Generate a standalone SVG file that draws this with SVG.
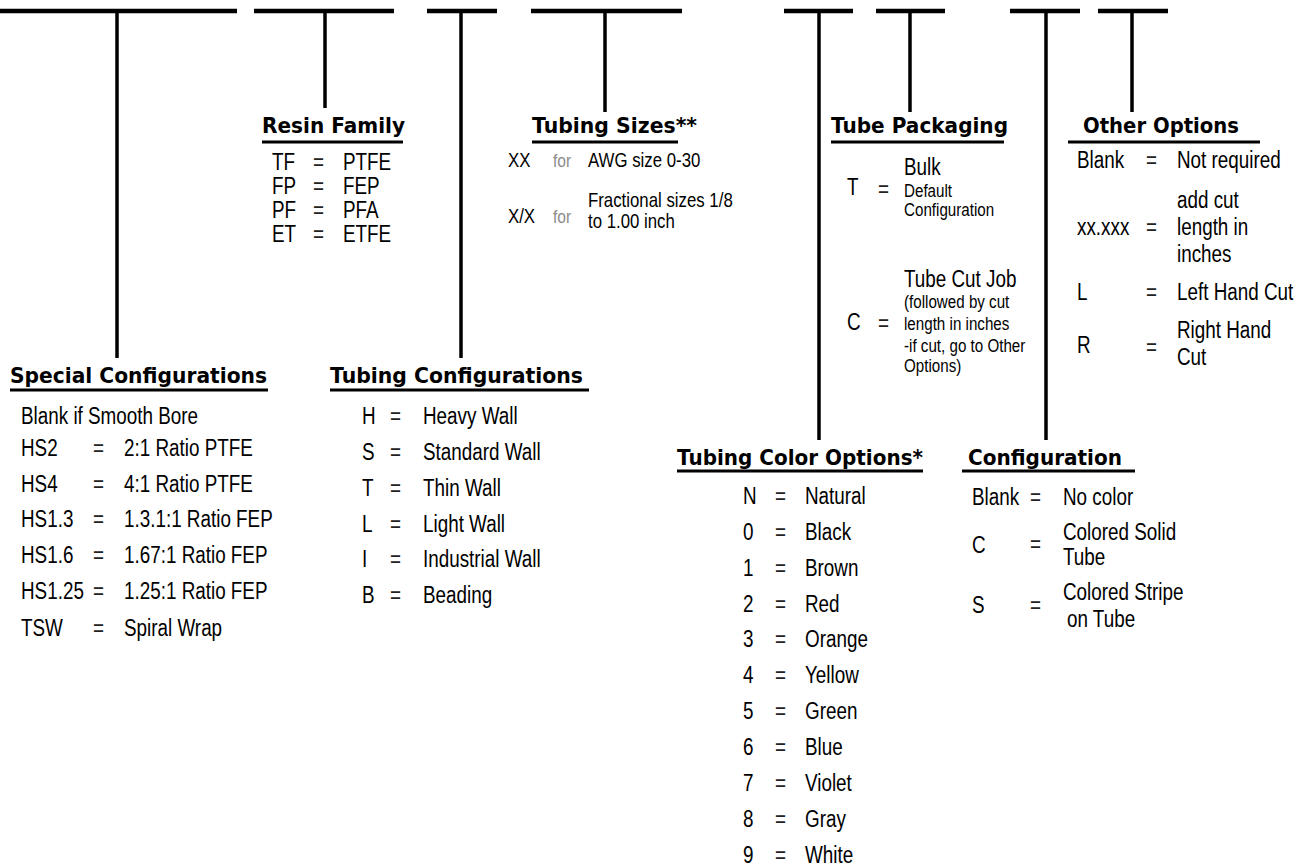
<svg xmlns="http://www.w3.org/2000/svg" width="1308" height="867" viewBox="0 0 1308 867">
<style>
.bar{stroke:#000;stroke-width:4.5;fill:none}
.stem{stroke:#000;stroke-width:3.5;fill:none}
.ul{stroke:#000;stroke-width:3;fill:none}
.t{font-family:"DejaVu Sans",sans-serif;font-weight:bold;font-size:21.5px;fill:#000}
.b{font-family:"Liberation Sans",Arial,sans-serif;font-size:23px;fill:#000}
.m{font-family:"Liberation Sans",Arial,sans-serif;font-size:20.5px;fill:#000}
.s{font-family:"Liberation Sans",Arial,sans-serif;font-size:18.5px;fill:#000}
.f{font-family:"Liberation Sans",Arial,sans-serif;font-size:19px;fill:#8a8a8a}
.e{font-family:"Liberation Sans",Arial,sans-serif;font-size:23px;fill:#222}
</style>
<rect width="1308" height="867" fill="#fff"/>
<g id="connectors">
<line class="bar" x1="0" y1="11" x2="237" y2="11"/>
<line class="bar" x1="254" y1="11" x2="394" y2="11"/>
<line class="bar" x1="427" y1="11" x2="497" y2="11"/>
<line class="bar" x1="531" y1="11" x2="682" y2="11"/>
<line class="bar" x1="784" y1="11" x2="853" y2="11"/>
<line class="bar" x1="876" y1="11" x2="945" y2="11"/>
<line class="bar" x1="1010" y1="11" x2="1080" y2="11"/>
<line class="bar" x1="1098" y1="11" x2="1168" y2="11"/>
<line class="stem" x1="117" y1="11" x2="117" y2="358"/>
<line class="stem" x1="325" y1="11" x2="325" y2="108"/>
<line class="stem" x1="461" y1="11" x2="461" y2="358"/>
<line class="stem" x1="605" y1="11" x2="605" y2="112"/>
<line class="stem" x1="819" y1="11" x2="819" y2="440"/>
<line class="stem" x1="910" y1="11" x2="910" y2="112"/>
<line class="stem" x1="1046" y1="11" x2="1046" y2="440"/>
<line class="stem" x1="1132" y1="11" x2="1132" y2="112"/>
</g>
<g id="resin-family">
<text class="t" x="262" y="133" textLength="143" lengthAdjust="spacingAndGlyphs">Resin Family</text>
<line class="ul" x1="262" y1="142" x2="403" y2="142"/>
<text class="b" transform="translate(272 170) scale(.82 1)">TF</text><text class="e" transform="translate(313 170) scale(.82 1)">=</text><text class="b" transform="translate(343 170) scale(.82 1)">PTFE</text>
<text class="b" transform="translate(272 194) scale(.82 1)">FP</text><text class="e" transform="translate(313 194) scale(.82 1)">=</text><text class="b" transform="translate(343 194) scale(.82 1)">FEP</text>
<text class="b" transform="translate(272 218) scale(.82 1)">PF</text><text class="e" transform="translate(313 218) scale(.82 1)">=</text><text class="b" transform="translate(343 218) scale(.82 1)">PFA</text>
<text class="b" transform="translate(272 242) scale(.82 1)">ET</text><text class="e" transform="translate(313 242) scale(.82 1)">=</text><text class="b" transform="translate(343 242) scale(.82 1)">ETFE</text>
</g>
<g id="tubing-sizes">
<text class="t" x="532" y="133" textLength="165" lengthAdjust="spacingAndGlyphs">Tubing Sizes**</text>
<line class="ul" x1="532" y1="142" x2="678" y2="142"/>
<text class="m" transform="translate(508 167) scale(.82 1)">XX</text><text class="f" transform="translate(553 167) scale(.82 1)">for</text><text class="m" transform="translate(588 167) scale(.82 1)">AWG size 0-30</text>
<text class="m" transform="translate(508 223) scale(.82 1)">X/X</text><text class="f" transform="translate(553 223) scale(.82 1)">for</text>
<text class="m" transform="translate(588 207) scale(.82 1)">Fractional sizes 1/8</text>
<text class="m" transform="translate(588 228) scale(.82 1)">to 1.00 inch</text>
</g>
<g id="tube-packaging">
<text class="t" x="831" y="133" textLength="177" lengthAdjust="spacingAndGlyphs">Tube Packaging</text>
<line class="ul" x1="831" y1="142" x2="1004" y2="142"/>
<text class="b" transform="translate(904 175) scale(.82 1)">Bulk</text>
<text class="b" transform="translate(847 195) scale(.82 1)">T</text><text class="e" transform="translate(878 197) scale(.82 1)">=</text>
<text class="s" transform="translate(904 197) scale(.82 1)">Default</text>
<text class="s" transform="translate(904 216) scale(.82 1)">Configuration</text>
<text class="b" transform="translate(904 287) scale(.82 1)">Tube Cut Job</text>
<text class="s" transform="translate(904 308) scale(.82 1)">(followed by cut</text>
<text class="b" transform="translate(847 330) scale(.82 1)">C</text><text class="e" transform="translate(878 331) scale(.82 1)">=</text>
<text class="s" transform="translate(904 330) scale(.82 1)">length in inches</text>
<text class="s" transform="translate(904 352) scale(.82 1)">-if cut, go to Other</text>
<text class="s" transform="translate(904 372) scale(.82 1)">Options)</text>
</g>
<g id="other-options">
<text class="t" x="1083" y="133" textLength="156" lengthAdjust="spacingAndGlyphs">Other Options</text>
<line class="ul" x1="1068" y1="142" x2="1260" y2="142"/>
<text class="b" transform="translate(1077 168) scale(.82 1)">Blank</text><text class="e" transform="translate(1146 168) scale(.82 1)">=</text><text class="b" transform="translate(1177 168) scale(.82 1)">Not required</text>
<text class="b" transform="translate(1177 208) scale(.82 1)">add cut</text>
<text class="b" transform="translate(1077 235) scale(.82 1)">xx.xxx</text><text class="e" transform="translate(1146 235) scale(.82 1)">=</text><text class="b" transform="translate(1177 235) scale(.82 1)">length in</text>
<text class="b" transform="translate(1177 262) scale(.82 1)">inches</text>
<text class="b" transform="translate(1077 300) scale(.82 1)">L</text><text class="e" transform="translate(1146 300) scale(.82 1)">=</text><text class="b" transform="translate(1177 300) scale(.82 1)">Left Hand Cut</text>
<text class="b" transform="translate(1177 338) scale(.82 1)">Right Hand</text>
<text class="b" transform="translate(1077 353) scale(.82 1)">R</text><text class="e" transform="translate(1146 355) scale(.82 1)">=</text>
<text class="b" transform="translate(1177 365) scale(.82 1)">Cut</text>
</g>
<g id="special-configurations">
<text class="t" x="10" y="383" textLength="257" lengthAdjust="spacingAndGlyphs">Special Configurations</text>
<line class="ul" x1="10" y1="390" x2="268" y2="390"/>
<text class="b" transform="translate(21 424) scale(.82 1)">Blank if Smooth Bore</text>
<text class="b" transform="translate(21 456) scale(.82 1)">HS2</text><text class="e" transform="translate(93 456) scale(.82 1)">=</text><text class="b" transform="translate(124 456) scale(.82 1)">2:1 Ratio PTFE</text>
<text class="b" transform="translate(21 492) scale(.82 1)">HS4</text><text class="e" transform="translate(93 492) scale(.82 1)">=</text><text class="b" transform="translate(124 492) scale(.82 1)">4:1 Ratio PTFE</text>
<text class="b" transform="translate(21 527) scale(.82 1)">HS1.3</text><text class="e" transform="translate(93 527) scale(.82 1)">=</text><text class="b" transform="translate(124 527) scale(.82 1)">1.3.1:1 Ratio FEP</text>
<text class="b" transform="translate(21 563) scale(.82 1)">HS1.6</text><text class="e" transform="translate(93 563) scale(.82 1)">=</text><text class="b" transform="translate(124 563) scale(.82 1)">1.67:1 Ratio FEP</text>
<text class="b" transform="translate(21 599) scale(.82 1)">HS1.25</text><text class="e" transform="translate(93 599) scale(.82 1)">=</text><text class="b" transform="translate(124 599) scale(.82 1)">1.25:1 Ratio FEP</text>
<text class="b" transform="translate(21 636) scale(.82 1)">TSW</text><text class="e" transform="translate(93 636) scale(.82 1)">=</text><text class="b" transform="translate(124 636) scale(.82 1)">Spiral Wrap</text>
</g>
<g id="tubing-configurations">
<text class="t" x="330" y="383" textLength="253" lengthAdjust="spacingAndGlyphs">Tubing Configurations</text>
<line class="ul" x1="330" y1="390" x2="589" y2="390"/>
<text class="b" transform="translate(362 424) scale(.82 1)">H</text><text class="e" transform="translate(390 424) scale(.82 1)">=</text><text class="b" transform="translate(423 424) scale(.82 1)">Heavy Wall</text>
<text class="b" transform="translate(362 460) scale(.82 1)">S</text><text class="e" transform="translate(390 460) scale(.82 1)">=</text><text class="b" transform="translate(423 460) scale(.82 1)">Standard Wall</text>
<text class="b" transform="translate(362 496) scale(.82 1)">T</text><text class="e" transform="translate(390 496) scale(.82 1)">=</text><text class="b" transform="translate(423 496) scale(.82 1)">Thin Wall</text>
<text class="b" transform="translate(362 532) scale(.82 1)">L</text><text class="e" transform="translate(390 532) scale(.82 1)">=</text><text class="b" transform="translate(423 532) scale(.82 1)">Light Wall</text>
<text class="b" transform="translate(362 567) scale(.82 1)">I</text><text class="e" transform="translate(390 567) scale(.82 1)">=</text><text class="b" transform="translate(423 567) scale(.82 1)">Industrial Wall</text>
<text class="b" transform="translate(362 603) scale(.82 1)">B</text><text class="e" transform="translate(390 603) scale(.82 1)">=</text><text class="b" transform="translate(423 603) scale(.82 1)">Beading</text>
</g>
<g id="tubing-color-options">
<text class="t" x="677" y="465" textLength="246" lengthAdjust="spacingAndGlyphs">Tubing Color Options*</text>
<line class="ul" x1="677" y1="471" x2="923" y2="471"/>
<text class="b" transform="translate(743 504) scale(.82 1)">N</text><text class="e" transform="translate(775 504) scale(.82 1)">=</text><text class="b" transform="translate(805 504) scale(.82 1)">Natural</text>
<text class="b" transform="translate(743 540) scale(.82 1)">0</text><text class="e" transform="translate(775 540) scale(.82 1)">=</text><text class="b" transform="translate(805 540) scale(.82 1)">Black</text>
<text class="b" transform="translate(743 576) scale(.82 1)">1</text><text class="e" transform="translate(775 576) scale(.82 1)">=</text><text class="b" transform="translate(805 576) scale(.82 1)">Brown</text>
<text class="b" transform="translate(743 612) scale(.82 1)">2</text><text class="e" transform="translate(775 612) scale(.82 1)">=</text><text class="b" transform="translate(805 612) scale(.82 1)">Red</text>
<text class="b" transform="translate(743 647) scale(.82 1)">3</text><text class="e" transform="translate(775 647) scale(.82 1)">=</text><text class="b" transform="translate(805 647) scale(.82 1)">Orange</text>
<text class="b" transform="translate(743 683) scale(.82 1)">4</text><text class="e" transform="translate(775 683) scale(.82 1)">=</text><text class="b" transform="translate(805 683) scale(.82 1)">Yellow</text>
<text class="b" transform="translate(743 719) scale(.82 1)">5</text><text class="e" transform="translate(775 719) scale(.82 1)">=</text><text class="b" transform="translate(805 719) scale(.82 1)">Green</text>
<text class="b" transform="translate(743 755) scale(.82 1)">6</text><text class="e" transform="translate(775 755) scale(.82 1)">=</text><text class="b" transform="translate(805 755) scale(.82 1)">Blue</text>
<text class="b" transform="translate(743 791) scale(.82 1)">7</text><text class="e" transform="translate(775 791) scale(.82 1)">=</text><text class="b" transform="translate(805 791) scale(.82 1)">Violet</text>
<text class="b" transform="translate(743 827) scale(.82 1)">8</text><text class="e" transform="translate(775 827) scale(.82 1)">=</text><text class="b" transform="translate(805 827) scale(.82 1)">Gray</text>
<text class="b" transform="translate(743 863) scale(.82 1)">9</text><text class="e" transform="translate(775 863) scale(.82 1)">=</text><text class="b" transform="translate(805 863) scale(.82 1)">White</text>
</g>
<g id="configuration">
<text class="t" x="968" y="465" textLength="154" lengthAdjust="spacingAndGlyphs">Configuration</text>
<line class="ul" x1="962" y1="471" x2="1135" y2="471"/>
<text class="b" transform="translate(972 505) scale(.82 1)">Blank</text><text class="e" transform="translate(1030 505) scale(.82 1)">=</text><text class="b" transform="translate(1063 505) scale(.82 1)">No color</text>
<text class="b" transform="translate(1063 540) scale(.82 1)">Colored Solid</text>
<text class="b" transform="translate(972 553) scale(.82 1)">C</text><text class="e" transform="translate(1030 552) scale(.82 1)">=</text>
<text class="b" transform="translate(1063 565) scale(.82 1)">Tube</text>
<text class="b" transform="translate(1063 600) scale(.82 1)">Colored Stripe</text>
<text class="b" transform="translate(972 613) scale(.82 1)">S</text><text class="e" transform="translate(1030 613) scale(.82 1)">=</text>
<text class="b" transform="translate(1067 627) scale(.82 1)">on Tube</text>
</g>
</svg>
